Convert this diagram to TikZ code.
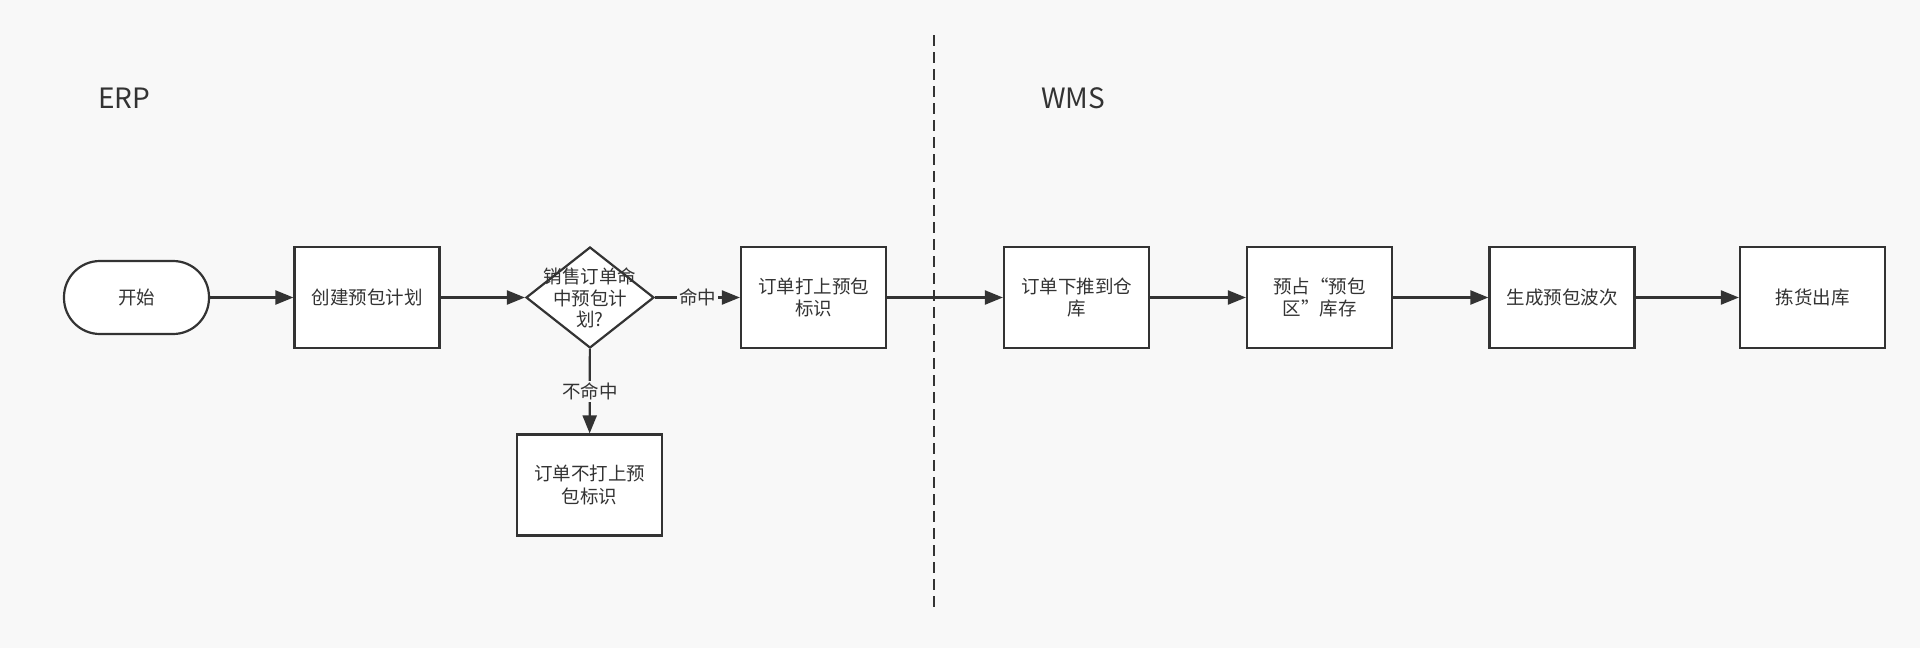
\documentclass[tikz,border=0pt]{standalone}
\usepackage{fontspec}
\setmainfont{Noto Sans CJK SC}
\usetikzlibrary{arrows.meta,shapes.geometric}
\definecolor{bg}{HTML}{F8F8F8}
\definecolor{ink}{HTML}{333333}
\begin{document}
\begin{tikzpicture}[x=1pt,y=-1pt,
  every node/.style={text=ink,font=\fontsize{18.5}{22.5}\selectfont},
  procbox/.style={draw=ink,line width=2.2pt,fill=white,minimum width=145pt,minimum height=101pt,inner sep=0pt,align=center},
  termbox/.style={draw=ink,line width=2.2pt,fill=white,rounded corners=36pt,minimum width=145pt,minimum height=73pt,inner sep=0pt},
  decbox/.style={draw=ink,line width=2.2pt,fill=white,diamond,minimum width=128pt,minimum height=101pt,inner sep=0pt},
  arr/.style={draw=ink,line width=2.2pt,-{Triangle[length=18pt,width=14pt]}},
  lbl/.style={fill=bg,inner sep=2pt},
  lane/.style={draw=ink,line width=2pt,dash pattern=on 11pt off 6pt},
  title/.style={font=\fontsize{28}{33}\selectfont,anchor=base west,inner sep=0pt}
]
\useasboundingbox[fill=bg] (0,0) rectangle (1920,648);

\node[title] (erp) at (98,108) {ERP};
\node[title] (wms) at (1041,108) {WMS};

\coordinate (lt) at (934,35);
\coordinate (lb) at (934,609);
\draw[lane] (lt) -- (lb);

\node[termbox] (start) at (136.5,297.5) {开始};
\node[procbox] (create) at (367,297.5) {创建预包计划};
\node[decbox] (dec) at (590,297.5) {};
\node (dectext) at (590,298) [align=center,inner sep=0pt,font=\fontsize{18.5}{21.7}\selectfont] {销售订单命\\中预包计\\划?};
\node[procbox] (mark) at (813.5,297.5) {订单打上预包\\标识};
\node[procbox] (nomark) at (589.5,485) {订单不打上预\\包标识};
\node[procbox] (push) at (1076.5,297.5) {订单下推到仓\\库};
\node[procbox] (occupy) at (1319.5,297.5) {预占“预包\\区”库存};
\node[procbox] (wave) at (1562,297.5) {生成预包波次};
\node[procbox] (pick) at (1812.5,297.5) {拣货出库};

\draw[arr] (start) -- (create);
\draw[arr] (create) -- (dec);
\draw[arr] (dec) -- node[lbl] (hit) {命中} (mark);
\draw[arr] (dec) -- node[lbl] (miss) {不命中} (nomark);
\draw[arr] (mark) -- (push);
\draw[arr] (push) -- (occupy);
\draw[arr] (occupy) -- (wave);
\draw[arr] (wave) -- (pick);
\end{tikzpicture}
\end{document}
